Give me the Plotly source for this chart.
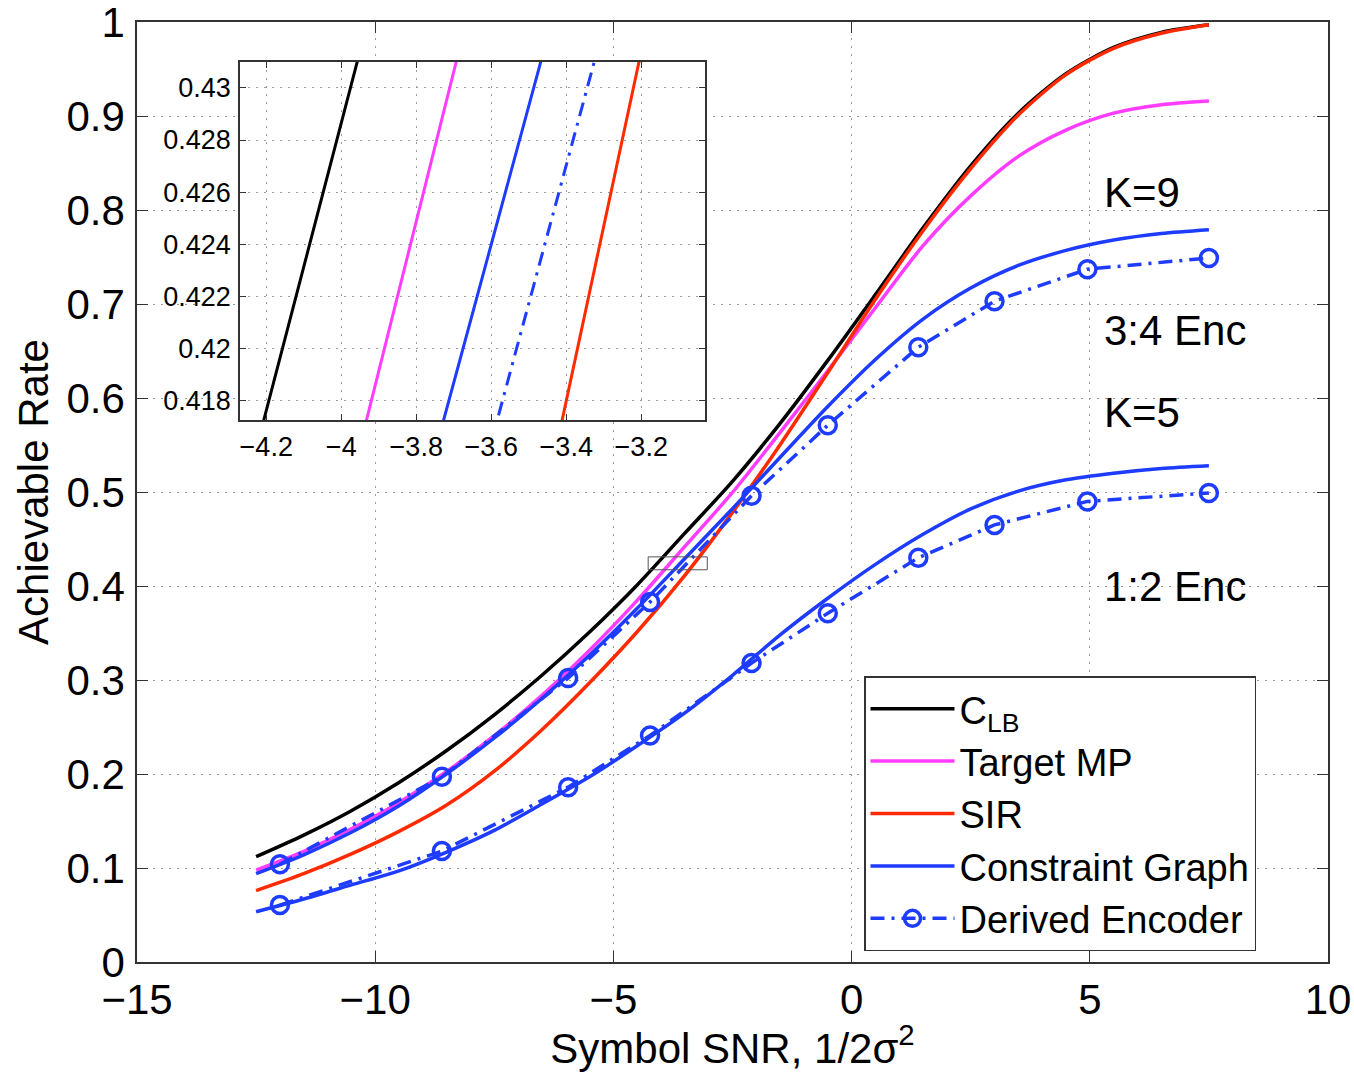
import plotly.graph_objects as go

# ---------------- data ----------------
snr_grid = [-12.5, -11.5, -10.5, -9.5, -8.5, -7.5, -6.5, -5.5, -4.5, -3.5, -2.5,
            -1.5, -0.5, 0.5, 1.5, 2.5, 3.5, 4.5, 5.5, 6.5, 7.5]
c_lb      = [0.112, 0.135, 0.161, 0.191, 0.225, 0.263, 0.305, 0.351, 0.4011, 0.4562, 0.5113,
             0.573, 0.640, 0.710, 0.781, 0.847, 0.903, 0.945, 0.973, 0.989, 0.997]
target_mp = [0.0977, 0.1177, 0.1417, 0.1697, 0.2027, 0.2407, 0.2837, 0.3317, 0.3847, 0.4421, 0.4995,
             0.5635, 0.629, 0.696, 0.762, 0.815, 0.857, 0.885, 0.903, 0.912, 0.916]
sir       = [0.076, 0.094, 0.115, 0.139, 0.167, 0.203, 0.247, 0.297, 0.3513, 0.4113, 0.4783,
             0.5503, 0.627, 0.705, 0.778, 0.844, 0.901, 0.944, 0.972, 0.988, 0.997]
cg_k9     = [0.094, 0.114, 0.138, 0.1663, 0.2003, 0.2383, 0.2803, 0.3263, 0.3763, 0.4293, 0.4823,
             0.537, 0.591, 0.641, 0.684, 0.717, 0.741, 0.757, 0.768, 0.775, 0.779]
cg_k5     = [0.0535, 0.067, 0.082, 0.097, 0.117, 0.140, 0.168, 0.197, 0.230, 0.265, 0.305,
             0.348, 0.387, 0.423, 0.455, 0.482, 0.501, 0.513, 0.520, 0.525, 0.528]

snr_enc = [-12, -8.6, -5.95, -4.23, -2.1, -0.5, 1.4, 3.0, 4.95, 7.5]
enc_k9  = [0.104, 0.197, 0.302, 0.383, 0.496, 0.571, 0.654, 0.703, 0.737, 0.749]
enc_k5  = [0.0606, 0.118, 0.186, 0.241, 0.318, 0.371, 0.430, 0.465, 0.490, 0.499]

main_xrange = [-15, 10]
main_yrange = [0, 1]
inset_xrange = [-4.27, -3.03]
inset_yrange = [0.41727, 0.43099]
inset_xticks = [-4.2, -4.0, -3.8, -3.6, -3.4, -3.2]
inset_xticklabels = ["\u22124.2", "\u22124", "\u22123.8", "\u22123.6", "\u22123.4", "\u22123.2"]
inset_yticks = [0.418, 0.420, 0.422, 0.424, 0.426, 0.428, 0.430]
inset_yticklabels = ["0.418", "0.42", "0.422", "0.424", "0.426", "0.428", "0.43"]

labels = [("K=9", 0.819), ("3:4 Enc", 0.672), ("K=5", 0.585), ("1:2 Enc", 0.400)]

BLACK = "#000000"
MAGENTA = "#ff3cff"
RED = "#ff2a00"
BLUE = "#1e3cff"
FONT = "Liberation Sans, Arial, sans-serif"
DASHDOT = "14px,7px,3px,7px"

fig = go.Figure()

solid = [("C<sub>LB</sub>", c_lb, BLACK, True),
         ("Target MP", target_mp, MAGENTA, True),
         ("SIR", sir, RED, True),
         ("Constraint Graph", cg_k9, BLUE, True),
         ("Constraint Graph", cg_k5, BLUE, False)]

for name, vals, col, show in solid:
    fig.add_trace(go.Scatter(x=snr_grid, y=vals, mode="lines", name=name,
                             line=dict(color=col, width=3.5, shape="spline", smoothing=0.8),
                             showlegend=show, legendgroup=name,
                             xaxis="x", yaxis="y"))

for vals, show in [(enc_k9, True), (enc_k5, False)]:
    fig.add_trace(go.Scatter(x=snr_enc, y=vals, mode="lines+markers", name="Derived Encoder",
                             line=dict(color=BLUE, width=3.5, dash=DASHDOT),
                             marker=dict(symbol="circle-open", size=17, color=BLUE,
                                         line=dict(color=BLUE, width=3.5)),
                             showlegend=show, legendgroup="enc",
                             xaxis="x", yaxis="y"))

# inset traces (same data, zoomed axes)
for name, vals, col, show in solid[:4]:
    fig.add_trace(go.Scatter(x=snr_grid, y=vals, mode="lines", showlegend=False,
                             line=dict(color=col, width=3),
                             xaxis="x2", yaxis="y2", hoverinfo="skip"))
fig.add_trace(go.Scatter(x=snr_enc, y=enc_k9, mode="lines", showlegend=False,
                         line=dict(color=BLUE, width=3, dash=DASHDOT),
                         xaxis="x2", yaxis="y2", hoverinfo="skip"))

L, R, T, B = 137, 26, 22, 110
W, H = 1354, 1072
pw, ph = W - L - R, H - T - B
inset_px = (240, 705, 62, 420)  # left, right, top, bottom
ix_dom = [(inset_px[0] - L) / pw, (inset_px[1] - L) / pw]
iy_dom = [(H - B - inset_px[3]) / ph, (H - B - inset_px[2]) / ph]

axis_common = dict(showline=True, linecolor="#333333", linewidth=1.5, mirror="ticks",
                   ticks="inside", tickcolor="#333333", showgrid=True, griddash="2px,6px",
                   gridcolor="#9a9a9a", gridwidth=1.2, zeroline=False, automargin=False,
                   ticklabeloverflow="allow")

fig.update_layout(
    width=W, height=H,
    margin=dict(l=L, r=R, t=T, b=B),
    paper_bgcolor="white", plot_bgcolor="white",
    font=dict(family=FONT, size=42, color="black"),
    xaxis=dict(domain=[0, 1], range=main_xrange, dtick=5, tick0=0, ticklen=11,
               ticklabelstandoff=0,
               title=dict(text="Symbol SNR, 1/2\u03c3<sup>2</sup>", standoff=14,
                          font=dict(size=42)),
               tickfont=dict(size=42), **axis_common),
    yaxis=dict(domain=[0, 1], range=main_yrange, dtick=0.1, tick0=0, ticklen=11,
               ticklabelstandoff=2,
               title=dict(text="Achievable Rate", standoff=5, font=dict(size=42)),
               tickfont=dict(size=42), **axis_common),
    xaxis2=dict(domain=ix_dom, anchor="y2", range=inset_xrange, tickvals=inset_xticks,
                ticktext=inset_xticklabels, ticklen=6, ticklabelstandoff=2,
                tickfont=dict(size=27), **axis_common),
    yaxis2=dict(domain=iy_dom, anchor="x2", range=inset_yrange, tickvals=inset_yticks,
                ticktext=inset_yticklabels, ticklen=6, ticklabelstandoff=2,
                tickfont=dict(size=27), **axis_common),
    legend=dict(x=(864 - L) / pw, y=(H - B - 676) / ph, xanchor="left", yanchor="top",
                bgcolor="white", bordercolor="#333333", borderwidth=1.5,
                font=dict(size=38), itemwidth=84, tracegroupgap=0),
    showlegend=True,
)

# white backdrop for inset and zoom-region marker on main axes
fig.add_shape(type="rect", xref="x2", yref="y2",
              x0=inset_xrange[0], x1=inset_xrange[1], y0=inset_yrange[0], y1=inset_yrange[1],
              fillcolor="white", line=dict(width=0), layer="below")
fig.add_shape(type="rect", xref="x", yref="y",
              x0=inset_xrange[0], x1=inset_xrange[1], y0=inset_yrange[0], y1=inset_yrange[1],
              fillcolor="rgba(0,0,0,0)", line=dict(color="#555555", width=1), layer="above")

for txt, yv in labels:
    fig.add_annotation(x=5.25, y=yv, xref="x", yref="y", text=txt, showarrow=False,
                       xanchor="left", yanchor="middle", font=dict(size=42, color="black"))

fig.write_html("out.html", config={"displayModeBar": False},
               post_script="document.body.style.margin='0px';")
